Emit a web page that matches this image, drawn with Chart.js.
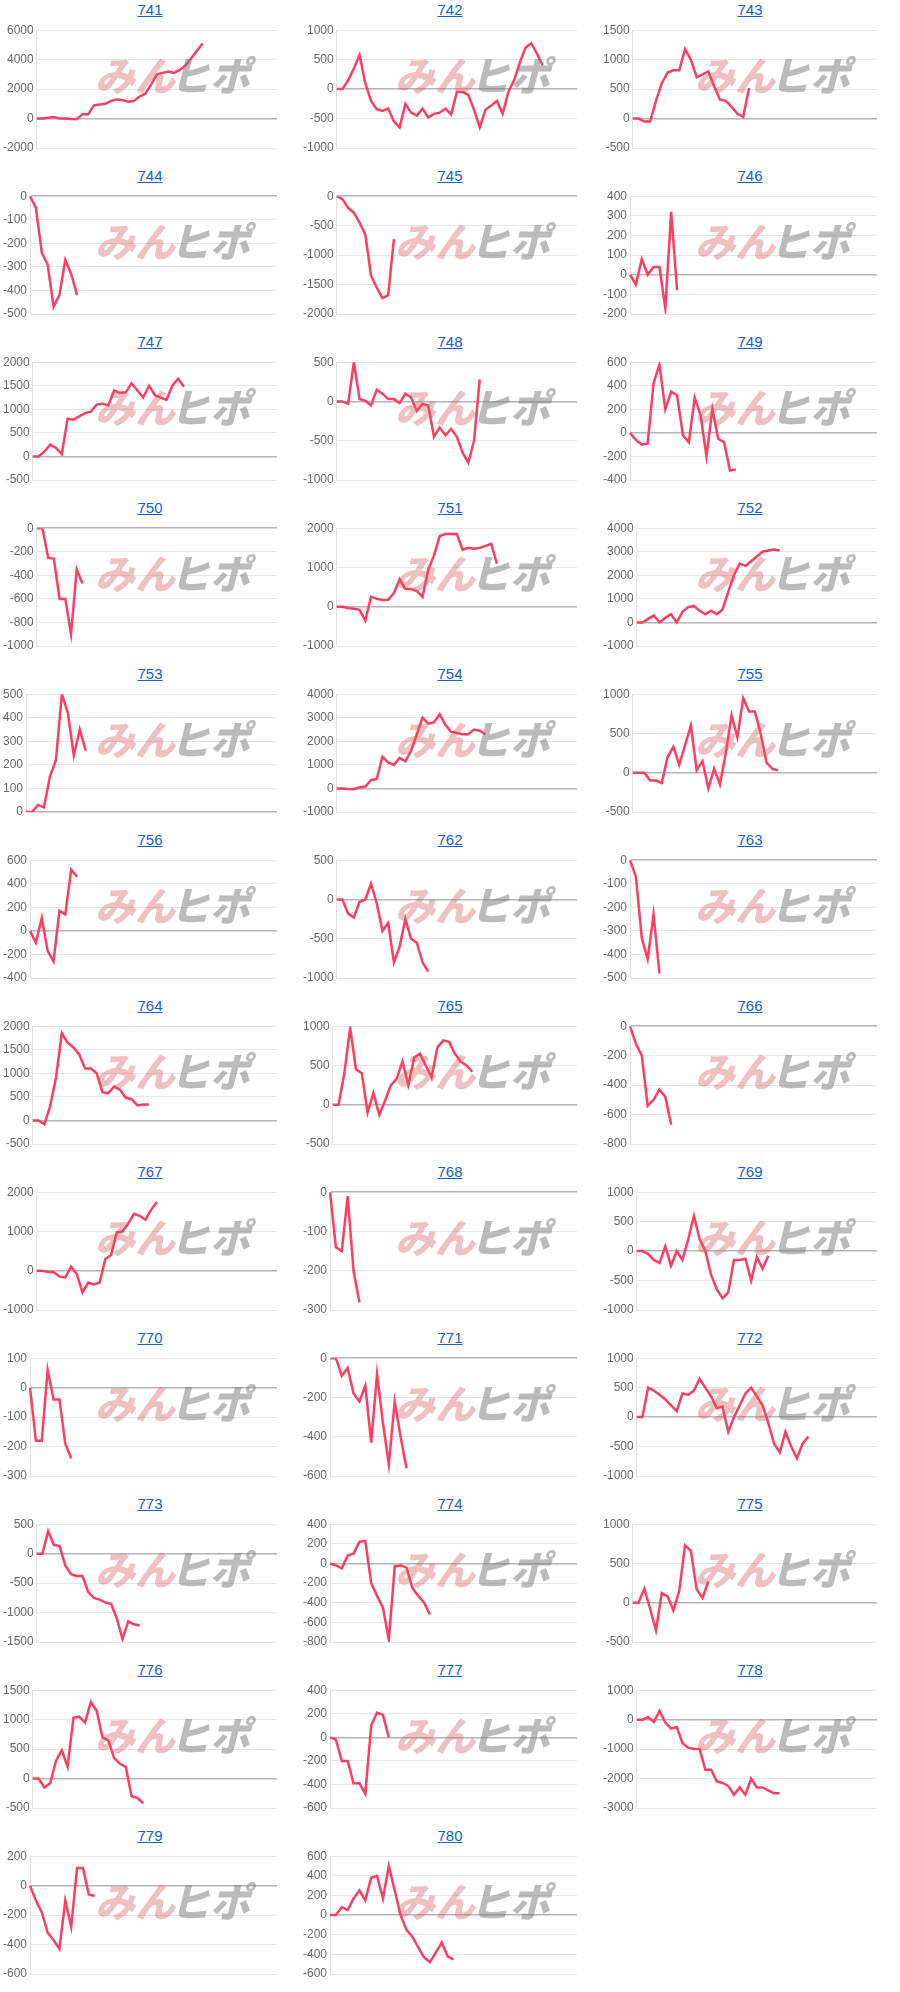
<!DOCTYPE html>
<html>
<head>
<meta charset="utf-8">
<script src="https://cdn.jsdelivr.net/npm/chart.js@4/dist/chart.umd.min.js"></script>
<style>
  body { margin: 0; background: #fff; font-family: "Liberation Sans", Arial, sans-serif; }
  #grid { display: flex; flex-wrap: wrap; width: 900px; }
  .cell { width: 300px; height: 166px; position: relative; }
  .cell a { display: block; text-align: center; font-size: 15px; line-height: 20px; height: 20px; color: #1560c8; text-decoration: underline; }
  .cell .box { position: relative; width: 300px; height: 146px; }
</style>
</head>
<body>
<div id="grid"></div>
<script>
const chartIds = ['741','742','743','744','745','746','747','748','749','750','751','752','753','754','755','756','762','763','764','765','766','767','768','769','770','771','772','773','774','775','776','777','778','779','780']
const labelCount = 43

const s741 = [0,0,50,100,0,0,-30,-50,300,300,900,950,1000,1200,1300,1250,1150,1200,1500,1700,2300,3000,3100,3200,3100,3300,3600,4100,4600,5100]
const s742 = [0,0,150,350,580,100,-200,-340,-370,-330,-550,-650,-250,-400,-450,-330,-480,-420,-400,-330,-430,-50,-50,-100,-350,-650,-350,-280,-200,-420,-50,150,450,700,780,600,400]
const s743 = [0,0,-50,-50,300,600,780,820,820,1180,1000,700,750,800,550,320,300,200,80,30,520]
const s744 = [0,-50,-240,-290,-470,-420,-270,-330,-420]
const s745 = [0,-50,-200,-280,-450,-650,-1350,-1550,-1730,-1680,-730]
const s746 = [0,-50,80,0,40,40,-170,320,-80]
const s747 = [0,0,100,250,180,50,800,780,850,920,950,1100,1120,1080,1400,1350,1360,1550,1400,1250,1500,1300,1250,1200,1500,1650,1480]
const s748 = [0,0,-30,500,30,10,-50,150,100,30,30,-20,100,50,-120,-30,-50,-450,-330,-430,-350,-450,-650,-780,-500,280]
const s749 = [0,-60,-100,-90,420,580,200,350,320,-20,-80,300,150,-200,200,-50,-80,-320,-310]
const s750 = [0,0,-250,-260,-600,-600,-900,-350,-470]
const s751 = [0,0,-30,-50,-80,-350,250,200,170,180,350,700,450,450,400,250,950,1300,1800,1850,1850,1850,1450,1500,1480,1500,1550,1600,1100]
const s752 = [0,0,150,300,0,200,350,0,450,650,700,500,350,500,350,550,1300,2000,2500,2400,2600,2800,3000,3050,3100,3050]
const s753 = [0,0,30,20,150,220,500,420,240,350,260]
const s754 = [0,0,-20,-30,50,80,350,400,1350,1100,1000,1300,1150,1600,2300,3000,2750,2800,3150,2700,2400,2350,2300,2300,2500,2450,2300]
const s755 = [0,0,0,-100,-100,-130,200,330,100,350,600,30,150,-200,50,-150,250,730,450,950,780,780,500,130,50,30]
const s756 = [0,-100,110,-170,-260,170,140,520,460]
const s762 = [0,0,-180,-230,-30,0,200,-50,-400,-300,-800,-600,-250,-500,-550,-800,-920]
const s763 = [0,-70,-330,-420,-230,-480]
const s764 = [0,0,-80,300,900,1850,1650,1550,1400,1100,1100,1000,600,580,720,650,480,450,320,340,340]
const s765 = [0,0,400,980,450,400,-100,150,-130,50,250,330,550,250,600,650,500,350,730,820,800,650,550,500,420]
const s766 = [0,-120,-200,-540,-500,-430,-480,-670]
const s767 = [0,0,-30,-40,-150,-170,100,-80,-550,-300,-350,-300,300,400,980,1000,1200,1450,1400,1300,1550,1750]
const s768 = [0,-140,-150,-10,-200,-280]
const s769 = [0,0,-50,-150,-200,80,-250,0,-150,200,600,200,0,-400,-650,-800,-700,-150,-150,-130,-500,-100,-300,-80]
const s770 = [0,-180,-180,60,-40,-40,-190,-240]
const s771 = [0,0,-90,-50,-180,-220,-140,-430,-80,-330,-540,-220,-400,-560]
const s772 = [0,0,500,450,380,300,200,100,400,380,450,650,500,350,150,180,-250,0,200,400,500,350,200,-100,-450,-600,-250,-500,-700,-450,-330]
const s773 = [0,0,380,150,130,-200,-350,-380,-380,-650,-750,-780,-830,-850,-1100,-1450,-1150,-1200,-1220]
const s774 = [0,-20,-50,80,100,220,230,-200,-330,-450,-780,-30,-20,-40,-250,-330,-400,-520]
const s775 = [0,0,180,-80,-350,120,80,-100,150,730,660,170,60,270]
const s776 = [0,0,-150,-80,300,480,200,1030,1050,950,1300,1150,700,650,350,250,200,-300,-330,-420]
const s777 = [0,-20,-200,-200,-390,-390,-480,100,210,190,0]
const s778 = [0,0,80,-80,300,-100,-300,-250,-800,-950,-1000,-1000,-1700,-1700,-2100,-2150,-2250,-2550,-2300,-2550,-2000,-2300,-2300,-2400,-2500,-2500]
const s779 = [0,-100,-180,-320,-370,-430,-100,-280,120,120,-60,-70]
const s780 = [0,0,80,50,170,250,150,380,400,170,500,250,0,-150,-220,-330,-430,-480,-380,-280,-420,-450]

const seriesList = [s741,s742,s743,s744,s745,s746,s747,s748,s749,s750,s751,s752,s753,s754,s755,s756,s762,s763,s764,s765,s766,s767,s768,s769,s770,s771,s772,s773,s774,s775,s776,s777,s778,s779,s780]
const yMin = [-2000,-1000,-500,-500,-2000,-200,-500,-1000,-400,-1000,-1000,-1000,0,-1000,-500,-400,-1000,-500,-500,-500,-800,-1000,-300,-1000,-300,-600,-1000,-1500,-800,-500,-500,-600,-3000,-600,-600]
const yMax = [6000,1000,1500,0,0,400,2000,500,600,0,2000,4000,500,4000,1000,600,500,0,2000,1000,0,2000,0,1000,100,0,1000,500,400,1000,1500,400,1000,200,600]
const yStep = [2000,500,500,100,500,100,500,500,200,200,1000,1000,100,1000,500,200,500,100,500,500,200,1000,100,500,100,200,500,500,200,500,500,200,1000,200,200]

const labels = Array.from({ length: labelCount }, (_, i) => String(i + 1))

// watermark drawn over the plot
const watermark = {
  id: 'watermark',
  afterDatasetsDraw (chart) {
    const ctx = chart.ctx
    ctx.save()
    ctx.font = 'italic 900 40px "Noto Sans CJK JP"'
    ctx.textBaseline = 'middle'
    ctx.fillStyle = 'rgba(215,90,90,0.38)'
    ctx.fillText('みん', 95, 56)
    ctx.fillStyle = 'rgba(120,120,120,0.5)'
    ctx.fillText('ヒポ', 170, 56)
    ctx.restore()
  }
}

const grid = document.getElementById('grid')
chartIds.forEach((id, k) => {
  const cell = document.createElement('div')
  cell.className = 'cell'
  cell.innerHTML = '<a href="#">' + id + '</a><div class="box"><canvas></canvas></div>'
  grid.appendChild(cell)
  new Chart(cell.querySelector('canvas'), {
    type: 'line',
    data: {
      labels: labels,
      datasets: [{
        data: seriesList[k],
        borderColor: '#ff3d5f',
        borderWidth: 2.5,
        pointRadius: 0,
        tension: 0,
        fill: false
      }]
    },
    options: {
      responsive: true,
      maintainAspectRatio: false,
      animation: false,
      layout: { padding: { top: 0, right: 23, bottom: 18, left: 0 } },
      plugins: { legend: { display: false }, tooltip: { enabled: false } },
      scales: {
        x: { display: false },
        y: {
          min: yMin[k],
          max: yMax[k],
          ticks: {
            stepSize: yStep[k],
            color: '#666',
            font: { size: 12, family: 'Liberation Sans' },
            callback: (v) => String(v)
          },
          grid: {
            color: (c) => c.tick && c.tick.value === 0 ? '#b4b4b4' : '#e6e6e6',
            lineWidth: (c) => c.tick && c.tick.value === 0 ? 1.5 : 1,
            drawTicks: false
          },
          border: { display: true, color: '#e0e0e0' }
        }
      }
    },
    plugins: [watermark]
  })
})
</script>
</body>
</html>
